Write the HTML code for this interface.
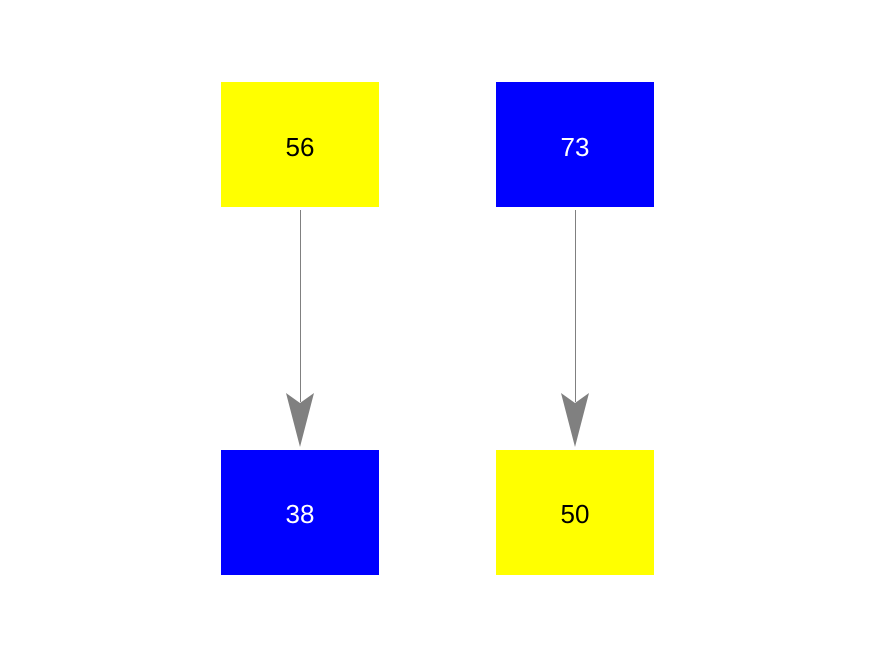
<!DOCTYPE html>
<html><head><style>
body{margin:0;background:#fff;}
</style></head><body>
<svg width="875" height="656" xmlns="http://www.w3.org/2000/svg" style="display:block">
<rect x="0" y="0" width="875" height="656" fill="#fff"/>
<rect x="221" y="82" width="158" height="125" fill="#ffff00"/>
<rect x="496" y="82" width="158" height="125" fill="#0000ff"/>
<rect x="221" y="450" width="158" height="125" fill="#0000ff"/>
<rect x="496" y="450" width="158" height="125" fill="#ffff00"/>
<g font-family="Liberation Sans, sans-serif" font-size="26" text-anchor="middle">
<text x="300" y="156" fill="#000">56</text>
<text x="575" y="156" fill="#fff">73</text>
<text x="300" y="523" fill="#fff">38</text>
<text x="575" y="523" fill="#000">50</text>
</g>
<line x1="300.5" y1="210" x2="300.5" y2="402" stroke="#808080" stroke-width="1"/>
<line x1="575.5" y1="210" x2="575.5" y2="402" stroke="#808080" stroke-width="1"/>
<polygon points="286,393 300,403 314,393 300,447" fill="#808080"/>
<polygon points="561,393 575,403 589,393 575,447" fill="#808080"/>
</svg>
</body></html>
